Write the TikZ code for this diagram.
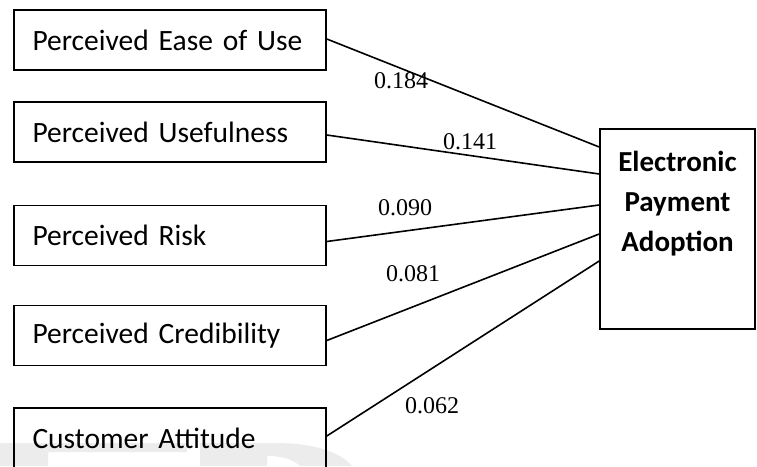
\documentclass[tikz,border=0pt]{standalone}
\usepackage{fontspec}
\setmainfont{Liberation Serif}
\newfontfamily\calib[WordSpace=0.75]{Carlito}
\usetikzlibrary{positioning}

\begin{document}
\begin{tikzpicture}[x=1pt,y=-1pt,
  factor/.style={draw,line width=1.6pt,minimum width=312pt,minimum height=60pt,
    font=\calib\fontsize{29.5}{32}\selectfont,text width=275pt,align=left},
  adopt/.style={draw,line width=1.6pt,minimum width=155pt,minimum height=200pt,
    font=\calib\bfseries\fontsize{29}{40}\selectfont,align=center},
  coef/.style={font=\fontsize{24}{26}\selectfont,inner sep=0pt}]

\useasboundingbox (0,0) rectangle (757,466);

% watermark
\fill [gray!15] (0,443) -- (187,443) -- (187,452) -- (48,452) -- (48,466) -- (0,466) -- cycle;
\fill [gray!15] (200,443) -- (275,443) .. controls (315,443) and (340,452) .. (352,466)
  -- (300,466) .. controls (295,461) and (285,456) .. (267,456) -- (267,466) -- (200,466) -- cycle;

\node [factor] (peou) at (170,40) {Perceived Ease of Use};
\node [factor] (pu) at (170,132) {Perceived Usefulness};
\node [factor] (pr) at (170,235.5) {Perceived Risk};
\node [factor] (pc) at (170,335.5) {Perceived Credibility};
\node [factor] (ca) at (170,438) {Customer Attitude};

\node [adopt] (epa) at (677.5,229) {Electronic\\Payment\\Adoption\\[16pt]\mbox{}};

\foreach \src/\dy/\yy in {peou/-1/147,pu/3/174,pr/6/205,pc/5/234,ca/-2/261}
    \draw [line width=1.6pt] ([yshift=-\dy pt]\src.east) -- (epa.west |- 0,\yy);

\node [coef] (c1) at (401,81) {0.184};
\node [coef] (c2) at (470,142) {0.141};
\node [coef] (c3) at (405,208) {0.090};
\node [coef] (c4) at (413,274) {0.081};
\node [coef] (c5) at (432,406) {0.062};

\end{tikzpicture}
\end{document}
